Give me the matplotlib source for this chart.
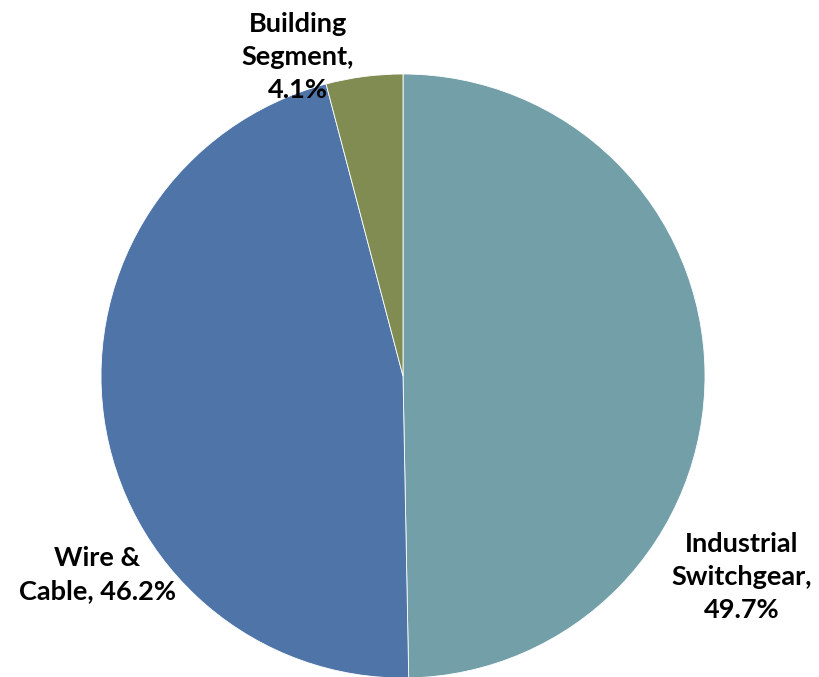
import matplotlib
matplotlib.use("Agg")
import matplotlib.pyplot as plt

categories = ["Industrial\nSwitchgear,\n49.7%", "Wire &\nCable, 46.2%", "Building\nSegment,\n4.1%"]
values = [49.7, 46.2, 4.1]
colors = ["#729FA8", "#4E74A8", "#808C52"]

W, H = 819, 677
cx, cy, r = 403, 376, 302
fig = plt.figure(figsize=(W / 100, H / 100), dpi=100)
ax = fig.add_axes([(cx - r) / W, (H - cy - r) / H, 2 * r / W, 2 * r / H])
wedges, _ = ax.pie(values, colors=colors, startangle=90, counterclock=False,
                   radius=1.0, wedgeprops=dict(linewidth=0.6, edgecolor="white"))
ax.set_xlim(-1, 1)
ax.set_ylim(-1, 1)
ax.set_aspect("equal")
ax.axis("off")

label_pos = [(742, 577), (97, 575), (298, 57)]
for lab, (px, py) in zip(categories, label_pos):
    ax.text((px - cx) / r, (cy - py) / r, lab, ha="center", va="center",
            fontsize=19.5, fontweight="bold", family=["Lato", "DejaVu Sans"],
            linespacing=1.45, color="black", clip_on=False)

fig.savefig("out.png", dpi=100)
